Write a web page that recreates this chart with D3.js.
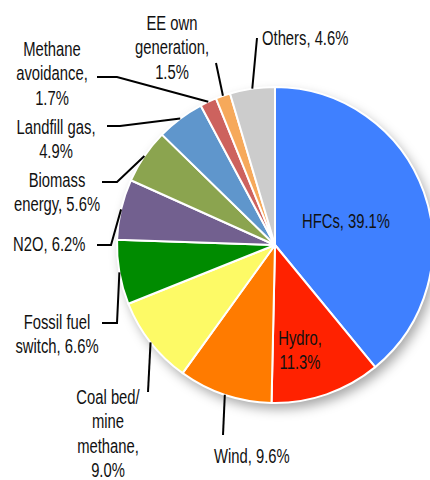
<!DOCTYPE html>
<html>
<head>
<meta charset="utf-8">
<script src="https://cdn.jsdelivr.net/npm/d3@7"></script>
<style>
  body { margin: 0; background: #fff; }
  svg text { font-family: "Liberation Sans", Arial, sans-serif; font-size: 19.5px; fill: #111; }
</style>
</head>
<body>
<svg width="430" height="480"></svg>
<script>
// project types and their share of credits (%)
const categories = ['HFCs', 'Hydro', 'Wind', 'Coal bed/mine methane', 'Fossil fuel switch', 'N2O',
    'Biomass energy', 'Landfill gas', 'Methane avoidance', 'EE own generation', 'Others'];
const shares = [39.1, 11.3, 9.6, 9.0, 6.6, 6.2, 5.6, 4.9, 1.7, 1.5, 4.6];
// label text as it is broken on the chart
const labelLines = [
    ['HFCs, 39.1%'],
    ['Hydro,', '11.3%'],
    ['Wind, 9.6%'],
    ['Coal bed/', 'mine', 'methane,', '9.0%'],
    ['Fossil fuel', 'switch, 6.6%'],
    ['N2O, 6.2%'],
    ['Biomass', 'energy, 5.6%'],
    ['Landfill gas,', '4.9%'],
    ['Methane', 'avoidance,', '1.7%'],
    ['EE own', 'generation,', '1.5%'],
    ['Others, 4.6%']
];
const colors = ['#3f80ff', '#ff2200', '#ff7b00', '#fdfa66', '#008b00', '#72608f',
    '#8ba44f', '#5f96cc', '#cd625e', '#f6a95b', '#cccccc'];

// where each label sits; elbow = where the leader line bends, end = where it stops
const layout = [
    { x: 346, y: 221, anchor: 'middle', inside: true },
    { x: 300, y: 338, anchor: 'middle', inside: true },
    { x: 214, y: 456, anchor: 'start', end: [223, 435] },
    { x: 108, y: 397, anchor: 'middle', end: [148, 392] },
    { x: 57, y: 322, anchor: 'middle', elbow: [117, 323], end: [102, 323] },
    { x: 13, y: 244, anchor: 'start', elbow: [111, 245], end: [97, 245] },
    { x: 57, y: 180, anchor: 'middle', elbow: [117, 182], end: [102, 182] },
    { x: 56, y: 127, anchor: 'middle', elbow: [120, 126], end: [107, 126] },
    { x: 52, y: 49, anchor: 'middle', elbow: [117, 77], end: [97, 77] },
    { x: 172, y: 23, anchor: 'middle', end: [216, 63] },
    { x: 262, y: 38, anchor: 'start', end: [257, 38] }
];

const cx = 275, cy = 245, radius = 158;
const lineGap = 24.5;
const squeeze = 0.76; // the chart uses a condensed face

const svg = d3.select('svg');
const defs = svg.append('defs');
const shadow = defs.append('filter').attr('id', 'shadow')
    .attr('x', '-20%').attr('y', '-20%').attr('width', '140%').attr('height', '140%');
shadow.append('feDropShadow')
    .attr('dx', 4).attr('dy', 6).attr('stdDeviation', 6)
    .attr('flood-color', '#000').attr('flood-opacity', 0.35);

const data = categories.map((c, i) => ({ category: c, value: shares[i], lines: labelLines[i], color: colors[i], pos: layout[i] }));

const pie = d3.pie().value(d => d.value).sort(null);
const arc = d3.arc().innerRadius(0).outerRadius(radius);
const arcs = pie(data);

const g = svg.append('g').attr('transform', `translate(${cx},${cy})`);

// shadow disc under the pie
g.append('circle').attr('r', radius).attr('fill', '#fff').attr('filter', 'url(#shadow)');

g.selectAll('path.slice')
    .data(arcs)
    .enter()
    .append('path')
    .classed('slice', true)
    .attr('d', arc)
    .attr('fill', d => d.data.color)
    .attr('stroke', '#fff')
    .attr('stroke-width', 2)
    .attr('stroke-linejoin', 'round');

// leader lines start on the rim at each slice's middle angle
const rimPoint = d => {
    const a = (d.startAngle + d.endAngle) / 2;
    return [cx + radius * Math.sin(a), cy - radius * Math.cos(a)];
};

svg.selectAll('path.leader')
    .data(arcs.filter(d => !d.data.pos.inside))
    .enter()
    .append('path')
    .classed('leader', true)
    .attr('d', d => {
        const p = d.data.pos;
        const pts = [rimPoint(d)];
        if (p.elbow) pts.push(p.elbow);
        pts.push(p.end);
        return d3.line()(pts);
    })
    .attr('fill', 'none')
    .attr('stroke', '#000')
    .attr('stroke-width', 2);

const labels = svg.selectAll('text.label')
    .data(arcs)
    .enter()
    .append('text')
    .classed('label', true)
    .attr('transform', d => `translate(${d.data.pos.x},${d.data.pos.y}) scale(${squeeze},1)`)
    .attr('text-anchor', d => d.data.pos.anchor)
    .attr('dominant-baseline', 'central');

labels.selectAll('tspan')
    .data(d => d.data.lines.map((t, i) => ({ t, i })))
    .enter()
    .append('tspan')
    .attr('x', 0)
    .attr('y', d => d.i * lineGap)
    .text(d => d.t);
</script>
</body>
</html>
